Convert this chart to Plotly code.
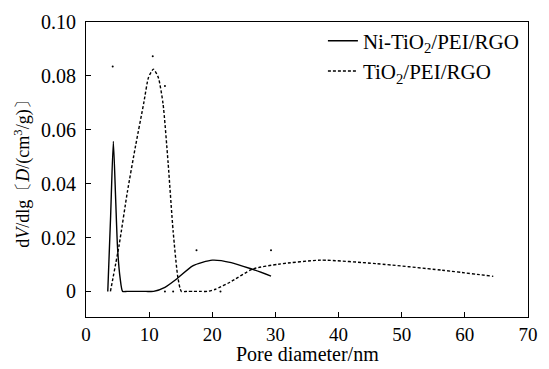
import plotly.graph_objects as go

ni_x = [3.45, 3.9, 4.33, 4.7, 5.0, 5.4, 5.8, 6.5, 8.0, 9.5, 10.7, 12.5, 14.3, 16.9, 20.0, 23.0, 26.0, 29.3]
ni_y = [0.0, 0.028, 0.0557, 0.034, 0.016, 0.005, 0.0, 0.0, 0.0, 0.0, 0.0, 0.0015, 0.0045, 0.0095, 0.0116, 0.0107, 0.0085, 0.0057]

ti_x = [3.87, 5.26, 6.55, 7.84, 9.13, 9.9, 10.68, 11.45, 12.2, 13.0, 13.8, 14.55, 15.1, 16.0, 17.0, 18.2, 19.2, 20.5, 22.8, 26.4, 30.5, 37.2, 46.0, 56.3, 64.5]
ti_y = [0.0, 0.0174, 0.0369, 0.0539, 0.0697, 0.0794, 0.0825, 0.0794, 0.0697, 0.0478, 0.0223, 0.0052, 0.0, 0.0, 0.0, 0.0, 0.0, 0.0008, 0.0034, 0.0083, 0.0101, 0.0116, 0.0103, 0.0079, 0.0056]

dot_x = [4.23, 10.57, 12.5, 17.5, 29.3, 12.5, 13.8, 21.3]
dot_y = [0.0835, 0.0873, 0.0762, 0.0153, 0.0153, 0.0, 0.0, 0.0]

x_ticks = [0, 10, 20, 30, 40, 50, 60, 70]
y_ticks = [0, 0.02, 0.04, 0.06, 0.08, 0.10]
y_tick_text = ["0", "0.02", "0.04", "0.06", "0.08", "0.10"]

font = "Liberation Serif"

fig = go.Figure()
fig.add_trace(go.Scatter(x=ni_x, y=ni_y, mode="lines", name="Ni-TiO<sub>2</sub>/PEI/RGO",
                         line=dict(color="black", width=1.4, shape="spline", smoothing=0.6)))
fig.add_trace(go.Scatter(x=ti_x, y=ti_y, mode="lines", name="TiO<sub>2</sub>/PEI/RGO",
                         line=dict(color="black", width=1.4, dash="3px,2px", shape="spline", smoothing=0.6)))
fig.add_trace(go.Scatter(x=dot_x, y=dot_y, mode="markers", showlegend=False,
                         marker=dict(color="black", size=2)))

fig.update_layout(
    width=549, height=369,
    margin=dict(l=86, r=11, t=17, b=52),
    paper_bgcolor="white", plot_bgcolor="white",
    font=dict(family=font, size=20, color="black"),
    legend=dict(x=0.536, y=1.005, xanchor="left", yanchor="top", bgcolor="rgba(0,0,0,0)",
                font=dict(family=font, size=21, color="black"), tracegroupgap=0),
    xaxis=dict(range=[0, 70], tickvals=x_ticks, ticks="inside", ticklen=5, tickcolor="black",
               showline=True, linecolor="black", linewidth=1, mirror=True, showgrid=False,
               zeroline=False, tickfont=dict(family=font, size=19, color="black")),
    yaxis=dict(range=[-0.0095, 0.10], tickvals=y_ticks, ticktext=y_tick_text, ticks="inside",
               ticklen=5, tickcolor="black", showline=True, linecolor="black", linewidth=1,
               mirror=True, showgrid=False, zeroline=False, tickfont=dict(family=font, size=20, color="black"),
               ticklabelstandoff=5,
               title=dict(text="d<i>V</i>/dlg〔<i>D</i>/(cm<sup>3</sup>/g)〕", standoff=6,
                          font=dict(family=font, size=18, color="black"))),
    annotations=[dict(text="Pore diameter/nm", xref="paper", yref="paper", x=0.5, y=-0.127,
                      xanchor="center", yanchor="middle", showarrow=False,
                      font=dict(family=font, size=20, color="black"))],
)

fig.write_html("out.html")
